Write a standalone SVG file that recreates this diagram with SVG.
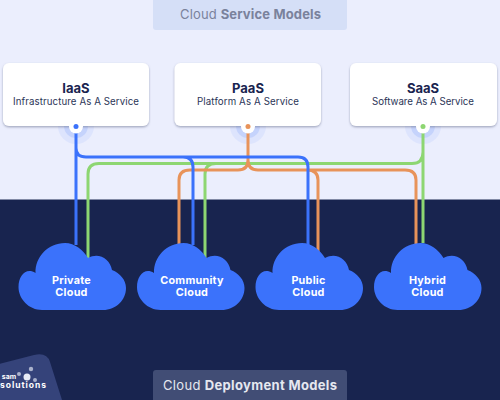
<svg xmlns="http://www.w3.org/2000/svg" width="500" height="400" viewBox="0 0 500 400">
<style>
text{font-family:Inter,"Liberation Sans",sans-serif;text-anchor:middle}
.card{fill:#fff;filter:url(#sh)}
.t{font-size:13px;font-weight:700;fill:#1a2550}
.s{font-size:9.700px;fill:#2b3557}
.c{font-size:10.800px;font-weight:700;fill:#fff;letter-spacing:.25px}
.cloud{fill:#3b72fb}
.l{fill:none;stroke-width:3;stroke-linejoin:round}
.b{stroke:#3b72fb}.g{stroke:#8dd672}.o{stroke:#e8935a}
.h{font-size:13px}
.h1{fill:#3b72fb;opacity:.08}.h2{fill:#3b72fb;opacity:.14}
</style>
<defs>
<filter id="sh" x="-5%" y="-5%" width="110%" height="115%"><feDropShadow dx="0" dy="1.2" stdDeviation="0.8" flood-color="#6a7390" flood-opacity="0.6"/></filter>
<path id="cl" d="M42 310C29 310 18.500 299 18.500 287C18.500 276 26 267 35.500 273C35 257 48 243 65 243C75 243 83 250 88 258C98 252 110 258 112 270C120 273 126 280 126 288C126 300 116 310 103 310Z"/>
</defs>
<rect width="500" height="200" fill="#ebeefd"/>
<rect y="199.500" width="500" height="200.500" fill="#18244f"/>
<g id="service-label"><rect x="153" y="-6" width="194" height="36" rx="3" fill="#d5dff7"/><text class="h" x="250.500" y="18.500" fill="#7a829c" textLength="141">Cloud <tspan font-weight="700">Service Models</tspan></text></g>
<g id="halos"><circle class="h1" cx="76" cy="126" r="18"/><circle class="h2" cx="76" cy="126" r="12"/><circle class="h1" cx="248" cy="126" r="18"/><circle class="h2" cx="248" cy="126" r="12"/><circle class="h1" cx="423" cy="126" r="18"/><circle class="h2" cx="423" cy="126" r="12"/></g>
<g id="connectors">
<path class="l g" d="M423 130V243M423 152Q423 163.500 412 163.500H99Q88 163.500 88 174V258M216 163.500Q205 163.500 205 174V258"/>
<path class="l o" d="M248 130V160Q248 170 238 170H190Q179 170 179 180V245M248 160Q248 170 258 170H405Q416 170 416 180V245M307 170Q318 170 318 180V252"/>
<path class="l b" d="M76 130V245M76 148Q76 157 86 157H183Q193 157 193 167V245M183 157H298Q308 157 308 167V245"/>
</g>
<g id="iaas"><rect class="card" x="3" y="63" width="146" height="63" rx="6"/><text class="t" x="76" y="92.500">IaaS</text><text class="s" x="76" y="105" textLength="126">Infrastructure As A Service</text><circle cx="76" cy="126.500" r="7" fill="#fff"/><circle cx="76" cy="126.500" r="2.500" fill="#3b72fb"/></g>
<g id="paas"><rect class="card" x="174.500" y="63" width="146.500" height="63" rx="6"/><text class="t" x="248" y="92.500">PaaS</text><text class="s" x="248" y="105" textLength="102">Platform As A Service</text><circle cx="248" cy="126.500" r="7" fill="#fff"/><circle cx="248" cy="126.500" r="2.500" fill="#e8935a"/></g>
<g id="saas"><rect class="card" x="350" y="63" width="147" height="63" rx="6"/><text class="t" x="423" y="92.500">SaaS</text><text class="s" x="423" y="105" textLength="102">Software As A Service</text><circle cx="423" cy="126.500" r="7" fill="#fff"/><circle cx="423" cy="126.500" r="2.500" fill="#8dd672"/></g>
<g id="private"><use href="#cl" class="cloud"/><text class="c" x="71.500" y="283.500">Private</text><text class="c" x="71.500" y="296">Cloud</text></g>
<g id="community"><use href="#cl" class="cloud" x="118.500"/><text class="c" x="192" y="283.500">Community</text><text class="c" x="192" y="296">Cloud</text></g>
<g id="public"><use href="#cl" class="cloud" x="237"/><text class="c" x="308.500" y="283.500">Public</text><text class="c" x="308.500" y="296">Cloud</text></g>
<g id="hybrid"><use href="#cl" class="cloud" x="355.500"/><text class="c" x="427.500" y="283.500">Hybrid</text><text class="c" x="427.500" y="296">Cloud</text></g>
<g id="deployment-label"><rect x="153" y="370" width="194" height="40" rx="3" fill="#414d75"/><text class="h" x="250" y="389.500" fill="#e6e8f0" textLength="174">Cloud <tspan font-weight="700">Deployment Models</tspan></text></g>
<g id="logo"><path d="M-20 369L34 355Q47 352 50 362L62 400H-20Z" fill="#35437a"/><circle cx="27" cy="377" r="3.500" fill="#e8ebf5"/><circle cx="19" cy="374" r="2" fill="#aab2cc"/><circle cx="31" cy="369" r="2.200" fill="#aab2cc"/><circle cx="35" cy="380" r="2" fill="#aab2cc"/><text x="9" y="378.500" font-size="7px" font-weight="700" fill="#fff">sam</text><text x="23" y="388" font-size="8.500px" font-weight="700" fill="#fff" textLength="46">solutions</text></g>
</svg>
